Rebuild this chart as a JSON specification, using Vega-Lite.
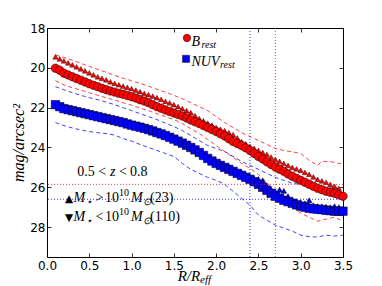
{
"$schema": "https://vega.github.io/schema/vega-lite/v6.json",
"width": 296, "height": 229,
"autosize": "none",
"padding": {"left": 47, "top": 28, "right": 39, "bottom": 29},
"background": "white",
"config": {
  "view": {"stroke": "black", "strokeWidth": 1},
  "axis": {"grid": false, "domain": false, "labelFont": "DejaVu Sans", "labelFontSize": 12, "labelColor": "#000", "tickColor": "#000", "tickSize": -4, "tickWidth": 0.8, "labelFlush": false, "labelOverlap": false},
  "axisX": {"labelPadding": 7},
  "axisY": {"labelPadding": 6}
},
"datasets": {
  "b": [
    {"r":0.10,"m":20.02},{"r":0.15,"m":20.12},{"r":0.20,"m":20.27},{"r":0.25,"m":20.36},{"r":0.30,"m":20.45},{"r":0.35,"m":20.54},{"r":0.40,"m":20.62},{"r":0.45,"m":20.71},{"r":0.50,"m":20.80},{"r":0.55,"m":20.88},{"r":0.60,"m":20.95},{"r":0.65,"m":21.03},{"r":0.70,"m":21.10},{"r":0.75,"m":21.16},{"r":0.80,"m":21.22},{"r":0.85,"m":21.28},{"r":0.90,"m":21.33},{"r":0.95,"m":21.39},{"r":1.00,"m":21.45},{"r":1.05,"m":21.52},{"r":1.10,"m":21.60},{"r":1.15,"m":21.67},{"r":1.20,"m":21.75},{"r":1.25,"m":21.85},{"r":1.30,"m":21.95},{"r":1.35,"m":22.03},{"r":1.40,"m":22.12},{"r":1.45,"m":22.19},{"r":1.50,"m":22.27},{"r":1.55,"m":22.35},{"r":1.60,"m":22.42},{"r":1.65,"m":22.52},{"r":1.70,"m":22.62},{"r":1.75,"m":22.71},{"r":1.80,"m":22.80},{"r":1.85,"m":22.90},{"r":1.90,"m":23.00},{"r":1.95,"m":23.10},{"r":2.00,"m":23.20},{"r":2.05,"m":23.31},{"r":2.10,"m":23.42},{"r":2.15,"m":23.56},{"r":2.20,"m":23.70},{"r":2.25,"m":23.80},{"r":2.30,"m":23.90},{"r":2.35,"m":24.02},{"r":2.40,"m":24.15},{"r":2.45,"m":24.30},{"r":2.50,"m":24.45},{"r":2.55,"m":24.58},{"r":2.60,"m":24.72},{"r":2.65,"m":24.85},{"r":2.70,"m":24.98},{"r":2.75,"m":25.09},{"r":2.80,"m":25.20},{"r":2.85,"m":25.33},{"r":2.90,"m":25.45},{"r":2.95,"m":25.55},{"r":3.00,"m":25.65},{"r":3.05,"m":25.75},{"r":3.10,"m":25.85},{"r":3.15,"m":25.95},{"r":3.20,"m":26.05},{"r":3.25,"m":26.12},{"r":3.30,"m":26.20},{"r":3.35,"m":26.25},{"r":3.40,"m":26.30},{"r":3.45,"m":26.38},{"r":3.50,"m":26.45}
  ],
  "tb": [
    {"r":0.10,"m":19.45},{"r":0.15,"m":19.55},{"r":0.20,"m":19.65},{"r":0.25,"m":19.75},{"r":0.30,"m":19.85},{"r":0.35,"m":19.95},{"r":0.40,"m":20.05},{"r":0.45,"m":20.15},{"r":0.50,"m":20.25},{"r":0.55,"m":20.35},{"r":0.60,"m":20.45},{"r":0.65,"m":20.53},{"r":0.70,"m":20.60},{"r":0.75,"m":20.70},{"r":0.80,"m":20.78},{"r":0.85,"m":20.85},{"r":0.90,"m":20.92},{"r":0.95,"m":20.98},{"r":1.00,"m":21.05},{"r":1.05,"m":21.12},{"r":1.10,"m":21.20},{"r":1.15,"m":21.28},{"r":1.20,"m":21.35},{"r":1.25,"m":21.42},{"r":1.30,"m":21.50},{"r":1.35,"m":21.58},{"r":1.40,"m":21.68},{"r":1.45,"m":21.76},{"r":1.50,"m":21.85},{"r":1.55,"m":21.95},{"r":1.60,"m":22.05},{"r":1.65,"m":22.15},{"r":1.70,"m":22.25},{"r":1.75,"m":22.40},{"r":1.80,"m":22.55},{"r":1.85,"m":22.66},{"r":1.90,"m":22.78},{"r":1.95,"m":22.88},{"r":2.00,"m":23.00},{"r":2.05,"m":23.08},{"r":2.10,"m":23.15},{"r":2.15,"m":23.25},{"r":2.20,"m":23.35},{"r":2.25,"m":23.52},{"r":2.30,"m":23.70},{"r":2.35,"m":23.82},{"r":2.40,"m":23.95},{"r":2.45,"m":24.05},{"r":2.50,"m":24.15},{"r":2.55,"m":24.25},{"r":2.60,"m":24.35},{"r":2.65,"m":24.48},{"r":2.70,"m":24.60},{"r":2.75,"m":24.70},{"r":2.80,"m":24.80},{"r":2.85,"m":24.90},{"r":2.90,"m":25.00},{"r":2.95,"m":25.08},{"r":3.00,"m":25.15},{"r":3.05,"m":25.25},{"r":3.10,"m":25.35},{"r":3.15,"m":25.48},{"r":3.20,"m":25.60},{"r":3.25,"m":25.68},{"r":3.30,"m":25.75},{"r":3.35,"m":25.85},{"r":3.40,"m":25.95},{"r":3.45,"m":26.05}
  ],
  "n": [
    {"r":0.10,"m":21.85},{"r":0.15,"m":21.95},{"r":0.20,"m":22.05},{"r":0.25,"m":22.10},{"r":0.30,"m":22.15},{"r":0.35,"m":22.20},{"r":0.40,"m":22.25},{"r":0.45,"m":22.30},{"r":0.50,"m":22.35},{"r":0.55,"m":22.40},{"r":0.60,"m":22.45},{"r":0.65,"m":22.50},{"r":0.70,"m":22.55},{"r":0.75,"m":22.60},{"r":0.80,"m":22.65},{"r":0.85,"m":22.70},{"r":0.90,"m":22.75},{"r":0.95,"m":22.82},{"r":1.00,"m":22.88},{"r":1.05,"m":22.93},{"r":1.10,"m":22.98},{"r":1.15,"m":23.04},{"r":1.20,"m":23.10},{"r":1.25,"m":23.17},{"r":1.30,"m":23.25},{"r":1.35,"m":23.32},{"r":1.40,"m":23.40},{"r":1.45,"m":23.49},{"r":1.50,"m":23.58},{"r":1.55,"m":23.68},{"r":1.60,"m":23.78},{"r":1.65,"m":23.89},{"r":1.70,"m":24.00},{"r":1.75,"m":24.12},{"r":1.80,"m":24.25},{"r":1.85,"m":24.40},{"r":1.90,"m":24.55},{"r":1.95,"m":24.68},{"r":2.00,"m":24.80},{"r":2.05,"m":24.90},{"r":2.10,"m":25.00},{"r":2.15,"m":25.10},{"r":2.20,"m":25.20},{"r":2.25,"m":25.30},{"r":2.30,"m":25.40},{"r":2.35,"m":25.50},{"r":2.40,"m":25.60},{"r":2.45,"m":25.72},{"r":2.50,"m":25.85},{"r":2.55,"m":26.00},{"r":2.60,"m":26.15},{"r":2.65,"m":26.30},{"r":2.70,"m":26.45},{"r":2.75,"m":26.55},{"r":2.80,"m":26.65},{"r":2.85,"m":26.72},{"r":2.90,"m":26.80},{"r":2.95,"m":26.88},{"r":3.00,"m":26.95},{"r":3.05,"m":27.00},{"r":3.10,"m":27.05},{"r":3.15,"m":27.08},{"r":3.20,"m":27.10},{"r":3.25,"m":27.12},{"r":3.30,"m":27.15},{"r":3.35,"m":27.17},{"r":3.40,"m":27.20},{"r":3.45,"m":27.20},{"r":3.50,"m":27.20}
  ],
  "tn": [
    {"r":2.15,"m":24.95},{"r":2.30,"m":25.25},{"r":2.35,"m":25.35},{"r":2.40,"m":25.45},{"r":2.45,"m":25.55},{"r":2.50,"m":25.58},{"r":2.55,"m":25.65},{"r":2.60,"m":25.95},{"r":2.65,"m":26.10},{"r":2.70,"m":26.20},{"r":2.75,"m":26.12},{"r":2.80,"m":26.18},{"r":2.85,"m":26.45},{"r":2.90,"m":26.60},{"r":2.95,"m":26.70},{"r":3.00,"m":26.75},{"r":3.05,"m":26.80},{"r":3.10,"m":26.65},{"r":3.15,"m":26.90},{"r":3.20,"m":26.95},{"r":3.25,"m":26.95},{"r":3.30,"m":26.98},{"r":3.35,"m":27.00},{"r":3.40,"m":26.95},{"r":3.45,"m":27.00}
  ],
  "d": [
    {"band":"B","side":"up","r":0.10,"m":19.35},{"band":"B","side":"up","r":0.20,"m":19.48},{"band":"B","side":"up","r":0.30,"m":19.62},{"band":"B","side":"up","r":0.40,"m":19.78},{"band":"B","side":"up","r":0.50,"m":19.92},{"band":"B","side":"up","r":0.60,"m":20.08},{"band":"B","side":"up","r":0.70,"m":20.22},{"band":"B","side":"up","r":0.80,"m":20.38},{"band":"B","side":"up","r":0.90,"m":20.52},{"band":"B","side":"up","r":1.00,"m":20.65},{"band":"B","side":"up","r":1.10,"m":20.78},{"band":"B","side":"up","r":1.20,"m":20.92},{"band":"B","side":"up","r":1.30,"m":21.08},{"band":"B","side":"up","r":1.40,"m":21.22},{"band":"B","side":"up","r":1.50,"m":21.38},{"band":"B","side":"up","r":1.60,"m":21.55},{"band":"B","side":"up","r":1.70,"m":21.75},{"band":"B","side":"up","r":1.80,"m":21.95},{"band":"B","side":"up","r":1.90,"m":22.15},{"band":"B","side":"up","r":2.00,"m":22.45},{"band":"B","side":"up","r":2.10,"m":22.75},{"band":"B","side":"up","r":2.20,"m":23.00},{"band":"B","side":"up","r":2.30,"m":23.25},{"band":"B","side":"up","r":2.40,"m":23.45},{"band":"B","side":"up","r":2.50,"m":23.65},{"band":"B","side":"up","r":2.60,"m":23.85},{"band":"B","side":"up","r":2.70,"m":24.05},{"band":"B","side":"up","r":2.80,"m":24.15},{"band":"B","side":"up","r":2.90,"m":24.22},{"band":"B","side":"up","r":3.00,"m":24.30},{"band":"B","side":"up","r":3.10,"m":24.65},{"band":"B","side":"up","r":3.20,"m":24.90},{"band":"B","side":"up","r":3.25,"m":24.70},{"band":"B","side":"up","r":3.35,"m":24.70},{"band":"B","side":"up","r":3.45,"m":24.80},{"band":"B","side":"up","r":3.50,"m":24.85},
    {"band":"B","side":"lo","r":0.10,"m":20.65},{"band":"B","side":"lo","r":0.20,"m":20.85},{"band":"B","side":"lo","r":0.30,"m":21.00},{"band":"B","side":"lo","r":0.40,"m":21.12},{"band":"B","side":"lo","r":0.50,"m":21.25},{"band":"B","side":"lo","r":0.60,"m":21.38},{"band":"B","side":"lo","r":0.70,"m":21.50},{"band":"B","side":"lo","r":0.80,"m":21.62},{"band":"B","side":"lo","r":0.90,"m":21.75},{"band":"B","side":"lo","r":1.00,"m":21.88},{"band":"B","side":"lo","r":1.10,"m":22.02},{"band":"B","side":"lo","r":1.20,"m":22.15},{"band":"B","side":"lo","r":1.30,"m":22.30},{"band":"B","side":"lo","r":1.40,"m":22.45},{"band":"B","side":"lo","r":1.50,"m":22.60},{"band":"B","side":"lo","r":1.60,"m":22.80},{"band":"B","side":"lo","r":1.70,"m":23.05},{"band":"B","side":"lo","r":1.80,"m":23.30},{"band":"B","side":"lo","r":1.90,"m":23.60},{"band":"B","side":"lo","r":2.00,"m":23.90},{"band":"B","side":"lo","r":2.10,"m":24.20},{"band":"B","side":"lo","r":2.20,"m":24.50},{"band":"B","side":"lo","r":2.30,"m":24.80},{"band":"B","side":"lo","r":2.40,"m":25.05},{"band":"B","side":"lo","r":2.50,"m":25.35},{"band":"B","side":"lo","r":2.60,"m":25.75},{"band":"B","side":"lo","r":2.70,"m":26.30},{"band":"B","side":"lo","r":2.80,"m":26.70},{"band":"B","side":"lo","r":2.90,"m":27.00},{"band":"B","side":"lo","r":3.00,"m":27.30},{"band":"B","side":"lo","r":3.10,"m":27.50},{"band":"B","side":"lo","r":3.20,"m":27.70},{"band":"B","side":"lo","r":3.30,"m":27.60},{"band":"B","side":"lo","r":3.40,"m":27.50},{"band":"B","side":"lo","r":3.50,"m":27.70},
    {"band":"NUV","side":"up","r":0.10,"m":20.95},{"band":"NUV","side":"up","r":0.20,"m":21.10},{"band":"NUV","side":"up","r":0.30,"m":21.25},{"band":"NUV","side":"up","r":0.40,"m":21.38},{"band":"NUV","side":"up","r":0.50,"m":21.50},{"band":"NUV","side":"up","r":0.60,"m":21.60},{"band":"NUV","side":"up","r":0.70,"m":21.72},{"band":"NUV","side":"up","r":0.80,"m":21.85},{"band":"NUV","side":"up","r":0.90,"m":22.00},{"band":"NUV","side":"up","r":1.00,"m":22.15},{"band":"NUV","side":"up","r":1.10,"m":22.30},{"band":"NUV","side":"up","r":1.20,"m":22.45},{"band":"NUV","side":"up","r":1.30,"m":22.60},{"band":"NUV","side":"up","r":1.40,"m":22.78},{"band":"NUV","side":"up","r":1.50,"m":22.95},{"band":"NUV","side":"up","r":1.60,"m":23.15},{"band":"NUV","side":"up","r":1.70,"m":23.40},{"band":"NUV","side":"up","r":1.80,"m":23.65},{"band":"NUV","side":"up","r":1.90,"m":23.90},{"band":"NUV","side":"up","r":2.00,"m":24.05},{"band":"NUV","side":"up","r":2.10,"m":24.20},{"band":"NUV","side":"up","r":2.20,"m":24.45},{"band":"NUV","side":"up","r":2.30,"m":24.70},{"band":"NUV","side":"up","r":2.40,"m":24.90},{"band":"NUV","side":"up","r":2.50,"m":25.10},{"band":"NUV","side":"up","r":2.60,"m":25.30},{"band":"NUV","side":"up","r":2.70,"m":25.50},{"band":"NUV","side":"up","r":2.80,"m":25.65},{"band":"NUV","side":"up","r":2.90,"m":25.80},{"band":"NUV","side":"up","r":3.00,"m":25.85},{"band":"NUV","side":"up","r":3.10,"m":25.90},{"band":"NUV","side":"up","r":3.20,"m":25.95},{"band":"NUV","side":"up","r":3.30,"m":26.00},{"band":"NUV","side":"up","r":3.40,"m":26.05},{"band":"NUV","side":"up","r":3.50,"m":26.10},
    {"band":"NUV","side":"lo","r":0.10,"m":22.75},{"band":"NUV","side":"lo","r":0.20,"m":22.90},{"band":"NUV","side":"lo","r":0.30,"m":23.02},{"band":"NUV","side":"lo","r":0.40,"m":23.12},{"band":"NUV","side":"lo","r":0.50,"m":23.20},{"band":"NUV","side":"lo","r":0.60,"m":23.26},{"band":"NUV","side":"lo","r":0.70,"m":23.30},{"band":"NUV","side":"lo","r":0.80,"m":23.38},{"band":"NUV","side":"lo","r":0.90,"m":23.55},{"band":"NUV","side":"lo","r":1.00,"m":23.68},{"band":"NUV","side":"lo","r":1.10,"m":23.85},{"band":"NUV","side":"lo","r":1.20,"m":24.00},{"band":"NUV","side":"lo","r":1.30,"m":24.15},{"band":"NUV","side":"lo","r":1.40,"m":24.30},{"band":"NUV","side":"lo","r":1.50,"m":24.45},{"band":"NUV","side":"lo","r":1.60,"m":24.80},{"band":"NUV","side":"lo","r":1.70,"m":25.10},{"band":"NUV","side":"lo","r":1.80,"m":25.30},{"band":"NUV","side":"lo","r":1.90,"m":25.50},{"band":"NUV","side":"lo","r":2.00,"m":25.65},{"band":"NUV","side":"lo","r":2.10,"m":25.85},{"band":"NUV","side":"lo","r":2.20,"m":26.20},{"band":"NUV","side":"lo","r":2.30,"m":26.55},{"band":"NUV","side":"lo","r":2.40,"m":26.90},{"band":"NUV","side":"lo","r":2.50,"m":27.40},{"band":"NUV","side":"lo","r":2.60,"m":27.65},{"band":"NUV","side":"lo","r":2.70,"m":27.90},{"band":"NUV","side":"lo","r":2.80,"m":28.05},{"band":"NUV","side":"lo","r":2.90,"m":28.20},{"band":"NUV","side":"lo","r":3.00,"m":28.40},{"band":"NUV","side":"lo","r":3.10,"m":28.48},{"band":"NUV","side":"lo","r":3.20,"m":28.50},{"band":"NUV","side":"lo","r":3.30,"m":28.40},{"band":"NUV","side":"lo","r":3.40,"m":28.45},{"band":"NUV","side":"lo","r":3.50,"m":28.40}
  ],
  "hl": [{"m": 25.85, "c": "B"}, {"m": 26.6, "c": "NUV"}],
  "vl": [{"r": 2.7, "c": "B"}, {"r": 2.4, "c": "NUV"}],
  "lc": [{"r": 1.655, "m": 18.5}],
  "ls": [{"r": 1.644, "m": 19.55}],
  "ann": [
    {"r":0.358,"m":25.43,"t":"0.5","k":"rm"},
    {"r":0.607,"m":25.43,"t":"<","k":"rm"},
    {"r":0.745,"m":25.43,"t":"z","k":"it"},
    {"r":0.851,"m":25.43,"t":"<","k":"rm"},
    {"r":0.981,"m":25.43,"t":"0.8","k":"rm"},
    {"r":0.213,"m":26.75,"t":"▲","k":"sym"},
    {"r":0.313,"m":26.75,"t":"M","k":"it"},
    {"r":0.461,"m":26.9,"t":"⋆","k":"sub"},
    {"r":0.573,"m":26.75,"t":">","k":"rm"},
    {"r":0.686,"m":26.75,"t":"10","k":"rm"},
    {"r":0.851,"m":26.42,"t":"10","k":"sup"},
    {"r":0.993,"m":26.75,"t":"M","k":"it"},
    {"r":1.135,"m":26.9,"t":"⊙","k":"sub"},
    {"r":1.218,"m":26.75,"t":"(23)","k":"rm"},
    {"r":0.213,"m":27.7,"t":"▼","k":"sym"},
    {"r":0.313,"m":27.7,"t":"M","k":"it"},
    {"r":0.461,"m":27.85,"t":"⋆","k":"sub"},
    {"r":0.573,"m":27.7,"t":"<","k":"rm"},
    {"r":0.686,"m":27.7,"t":"10","k":"rm"},
    {"r":0.851,"m":27.37,"t":"10","k":"sup"},
    {"r":0.993,"m":27.7,"t":"M","k":"it"},
    {"r":1.135,"m":27.85,"t":"⊙","k":"sub"},
    {"r":1.218,"m":27.7,"t":"(110)","k":"rm"},
    {"r":1.709,"m":18.9,"t":"B","k":"it"},
    {"r":1.827,"m":19.02,"t":"rest","k":"sub"},
    {"r":1.709,"m":19.9,"t":"NUV","k":"it"},
    {"r":2.046,"m":20.02,"t":"rest","k":"sub"},
    {"r":1.545,"m":30.72,"t":"R/R","k":"xt"},
    {"r":1.81,"m":30.8,"t":"eff","k":"xs"}
  ]
},
"layer": [
  {
    "encoding": {
      "x": {"field": "r", "type": "quantitative", "scale": {"domain": [0, 3.5], "nice": false},
            "axis": {"orient": "bottom", "values": [0, 0.5, 1, 1.5, 2, 2.5, 3, 3.5], "format": ".1f", "title": null}},
      "y": {"field": "m", "type": "quantitative", "scale": {"domain": [18, 29.5], "reverse": true, "nice": false, "zero": false},
            "axis": {"orient": "left", "values": [18, 20, 22, 24, 26, 28], "title": "mag/arcsec²", "titleFont": "Liberation Serif", "titleFontStyle": "italic", "titleFontWeight": "normal", "titleFontSize": 16, "titleColor": "#000", "titlePadding": 3}}
    },
    "layer": [
      {"data": {"name": "d"}, "mark": {"type": "line", "strokeWidth": 1, "strokeDash": [4, 3], "opacity": 0.75},
       "encoding": {"color": {"field": "band", "type": "nominal", "scale": {"domain": ["B", "NUV"], "range": ["#ff0000", "#0000ff"]}, "legend": null}, "detail": {"field": "side"}}},
      {"data": {"name": "tn"}, "mark": {"type": "point", "shape": "triangle-up", "filled": true, "fill": "#0000ff", "stroke": "#000", "strokeWidth": 0.5, "size": 32, "opacity": 1}},
      {"data": {"name": "n"}, "mark": {"type": "point", "shape": "square", "filled": true, "fill": "#0000ff", "stroke": "#000", "strokeWidth": 0.5, "size": 72, "opacity": 1}},
      {"data": {"name": "tb"}, "mark": {"type": "point", "shape": "triangle-up", "filled": true, "fill": "#ff0000", "stroke": "#000", "strokeWidth": 0.4, "size": 30, "opacity": 1}},
      {"data": {"name": "b"}, "mark": {"type": "point", "shape": "circle", "filled": true, "fill": "#ff0000", "stroke": "#000", "strokeWidth": 0.5, "size": 72, "opacity": 1}},
      {"data": {"name": "lc"}, "mark": {"type": "point", "shape": "circle", "filled": true, "fill": "#ff0000", "stroke": "#000", "strokeWidth": 0.5, "size": 55, "opacity": 1}},
      {"data": {"name": "ls"}, "mark": {"type": "point", "shape": "square", "filled": true, "fill": "#0000ff", "stroke": "#000", "strokeWidth": 0.5, "size": 50, "opacity": 1}},
      {"data": {"name": "ann"}, "transform": [{"filter": "datum.k === 'rm'"}], "mark": {"type": "text", "align": "left", "baseline": "alphabetic", "font": "Liberation Serif", "fontSize": 14, "color": "#000"}, "encoding": {"text": {"field": "t"}}},
      {"data": {"name": "ann"}, "transform": [{"filter": "datum.k === 'it'"}], "mark": {"type": "text", "align": "left", "baseline": "alphabetic", "font": "Liberation Serif", "fontStyle": "italic", "fontSize": 14, "color": "#000"}, "encoding": {"text": {"field": "t"}}},
      {"data": {"name": "ann"}, "transform": [{"filter": "datum.k === 'sub'"}], "mark": {"type": "text", "align": "left", "baseline": "alphabetic", "font": "Liberation Serif", "fontStyle": "italic", "fontSize": 10, "color": "#000"}, "encoding": {"text": {"field": "t"}}},
      {"data": {"name": "ann"}, "transform": [{"filter": "datum.k === 'sup'"}], "mark": {"type": "text", "align": "left", "baseline": "alphabetic", "font": "Liberation Serif", "fontSize": 10, "color": "#000"}, "encoding": {"text": {"field": "t"}}},
      {"data": {"name": "ann"}, "transform": [{"filter": "datum.k === 'sym'"}], "mark": {"type": "text", "align": "left", "baseline": "alphabetic", "font": "DejaVu Sans", "fontSize": 10.5, "color": "#000"}, "encoding": {"text": {"field": "t"}}},
      {"data": {"name": "ann"}, "transform": [{"filter": "datum.k === 'xt'"}], "mark": {"type": "text", "align": "left", "baseline": "alphabetic", "font": "Liberation Serif", "fontStyle": "italic", "fontSize": 15, "color": "#000"}, "encoding": {"text": {"field": "t"}}},
      {"data": {"name": "ann"}, "transform": [{"filter": "datum.k === 'xs'"}], "mark": {"type": "text", "align": "left", "baseline": "alphabetic", "font": "Liberation Serif", "fontStyle": "italic", "fontSize": 11, "color": "#000"}, "encoding": {"text": {"field": "t"}}}
    ]
  },
  {
    "data": {"name": "hl"},
    "mark": {"type": "rule", "strokeWidth": 0.8, "strokeDash": [1, 2]},
    "encoding": {
      "y": {"field": "m", "type": "quantitative", "scale": {"domain": [18, 29.5], "reverse": true, "nice": false, "zero": false}, "axis": null},
      "color": {"field": "c", "type": "nominal", "scale": {"domain": ["B", "NUV"], "range": ["#f5a3a3", "#7c7cff"]}, "legend": null}
    }
  },
  {
    "data": {"name": "vl"},
    "mark": {"type": "rule", "strokeWidth": 0.8, "strokeDash": [1, 2]},
    "encoding": {
      "x": {"field": "r", "type": "quantitative", "scale": {"domain": [0, 3.5], "nice": false}, "axis": null},
      "color": {"field": "c", "type": "nominal", "scale": {"domain": ["B", "NUV"], "range": ["#f5a3a3", "#7c7cff"]}, "legend": null}
    }
  },
  {
    "data": {"name": "lc"},
    "mark": {"type": "point", "opacity": 0},
    "encoding": {
      "x": {"field": "r", "type": "quantitative", "scale": {"domain": [0, 3.5], "nice": false},
            "axis": {"orient": "top", "values": [0, 0.5, 1, 1.5, 2, 2.5, 3, 3.5], "labels": false, "title": null}},
      "y": {"field": "m", "type": "quantitative", "scale": {"domain": [18, 29.5], "reverse": true, "nice": false, "zero": false},
            "axis": {"orient": "right", "values": [18, 20, 22, 24, 26, 28], "labels": false, "title": null}}
    }
  }
],
"resolve": {"axis": {"x": "independent", "y": "independent"}}
}
